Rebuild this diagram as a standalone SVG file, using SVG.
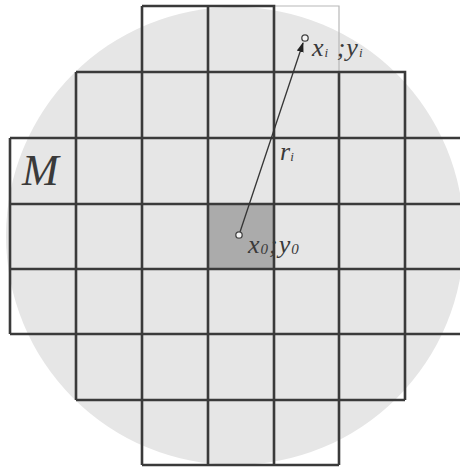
<svg xmlns="http://www.w3.org/2000/svg" width="460" height="471" viewBox="0 0 460 471">
<style>
.cell{fill:none;stroke:#3a3a3a;stroke-width:2.6}
.faint{fill:none;stroke:#b8b8b8;stroke-width:1.2}
.lbl{font-family:"Liberation Serif","DejaVu Serif",serif;font-style:italic;fill:#3a3a3a}
.pt{fill:#f4f4f4;stroke:#444;stroke-width:1.3}
</style>
<defs>
<marker id="ah" viewBox="0 0 10 10" refX="9" refY="5" markerWidth="10" markerHeight="10" markerUnits="userSpaceOnUse" orient="auto">
<path d="M0,1.5 L10,5 L0,8.5 z" fill="#222"/>
</marker>
</defs>
<rect width="460" height="471" fill="#ffffff"/>
<g id="disk"><circle cx="235" cy="236" r="229" fill="#e6e6e6"/></g>
<g id="center-cell"><rect x="208" y="204" width="66" height="65" fill="#ababab"/></g>
<g id="grid">
<path class="faint" d="M274,6 H339 V72"/>
<path class="cell" d="M142,6 H274 V72 M142,6 V465 M208,6 V465"/>
<path class="cell" d="M76,72 H405 V138 M76,72 V400 M274,72 V465 M339,72 V465 M405,72 V400"/>
<path class="cell" d="M10,138 H471 M10,138 V334 M10,204 H471 M10,269 H471 M10,334 H471"/>
<path class="cell" d="M76,400 H405 M142,465 H339"/>
</g>
<g id="connectors">
<line x1="239" y1="235" x2="303" y2="43" stroke="#333" stroke-width="1.3" marker-end="url(#ah)"/>
</g>
<g id="p0"><circle class="pt" cx="239" cy="235" r="3.2"/>
<text class="lbl" x="248" y="253" font-size="26" letter-spacing="1">x<tspan font-size="15" dy="1">0</tspan><tspan dy="-1">;</tspan>y<tspan font-size="15" dy="1">0</tspan></text></g>
<g id="pi"><circle class="pt" cx="305" cy="38" r="3.2"/>
<text class="lbl" x="312" y="56" font-size="26" letter-spacing="1">x<tspan font-size="13" dy="1">i</tspan><tspan dy="-1"> ;</tspan>y<tspan font-size="13" dy="1">i</tspan></text></g>
<g id="r"><text class="lbl" x="280" y="160" font-size="26">r<tspan font-size="13" dy="1">i</tspan></text></g>
<g id="M"><text class="lbl" x="22" y="185" font-size="44">M</text></g>
</svg>
